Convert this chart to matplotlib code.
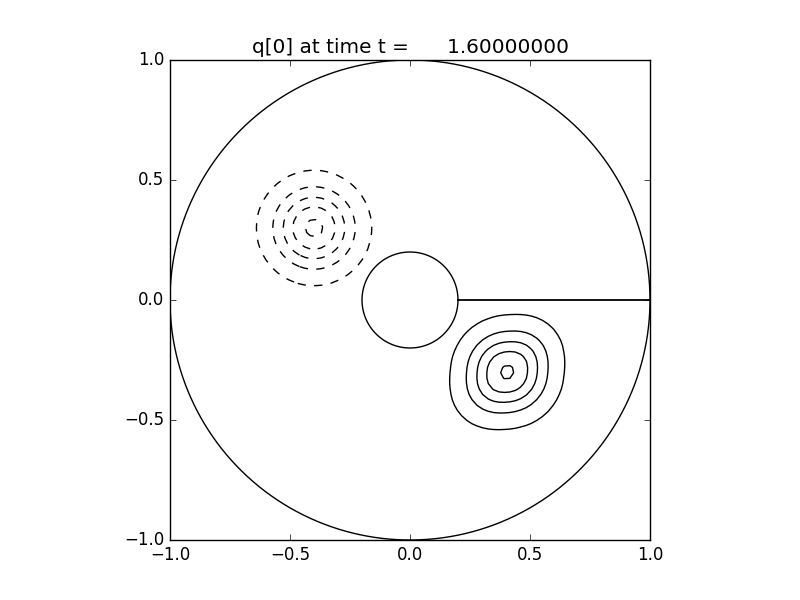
import numpy as np
import matplotlib
matplotlib.use("Agg")
import matplotlib.pyplot as plt

plt.style.use("classic")

# blob parameters
neg_center = (-0.40, 0.30)
neg_amp = -0.95
neg_width = 0.113
pos_center = (0.405, -0.30)
pos_amp = 0.93
pos_width_u = 0.119   # along the lower-left / upper-right diagonal
pos_width_v = 0.107
pos_pnorm = 2.3

# contour levels
levels = [-0.9, -0.7, -0.5, -0.3, -0.1, 0.1, 0.3, 0.5, 0.7, 0.9]

# geometry
outer_radius = 1.0
inner_radius = 0.2
cut_x = [0.2, 1.0]
cut_y = [0.0, 0.0]

title_time = 1.6

# field on a grid
n = 90
xs = np.linspace(-1, 1, n)
X, Y = np.meshgrid(xs, xs)

rn2 = (X - neg_center[0])**2 + (Y - neg_center[1])**2
dxp = X - pos_center[0]
dyp = Y - pos_center[1]
u = (dxp + dyp) / np.sqrt(2) / pos_width_u
v = (dyp - dxp) / np.sqrt(2) / pos_width_v
# p-norm in the unrotated frame gives the squarish outline
su = (u + v) / np.sqrt(2)
sv = (u - v) / np.sqrt(2)
rp = (np.abs(su)**pos_pnorm + np.abs(sv)**pos_pnorm)**(1.0 / pos_pnorm)
Q = neg_amp * np.exp(-rn2 / (2 * neg_width**2)) + pos_amp * np.exp(-rp**2 / 2)

fig = plt.figure()
ax = fig.add_subplot(111)

ax.contour(X, Y, Q, levels=levels, colors="k")

th = np.linspace(0, 2 * np.pi, 400)
ax.plot(outer_radius * np.cos(th), outer_radius * np.sin(th), "k-", lw=1)
ax.plot(inner_radius * np.cos(th), inner_radius * np.sin(th), "k-", lw=1)
ax.plot(cut_x, cut_y, "k-", lw=1.3)

ax.set_xlim(-1, 1)
ax.set_ylim(-1, 1)
ax.set_xticks([-1.0, -0.5, 0.0, 0.5, 1.0])
ax.set_yticks([-1.0, -0.5, 0.0, 0.5, 1.0])
ax.set_aspect("equal")
ax.set_title("q[0] at time t = %15.8f" % title_time)

fig.savefig("out.png")
